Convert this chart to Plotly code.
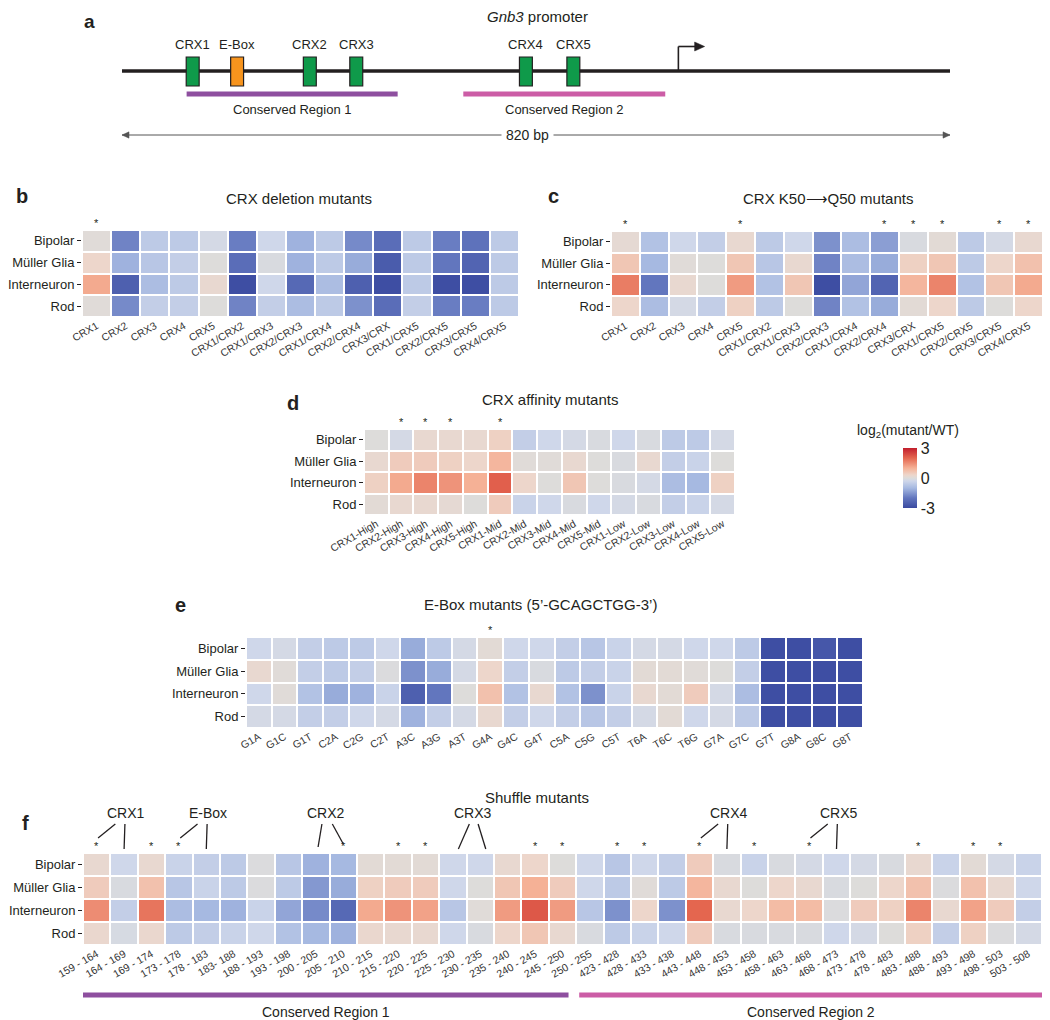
import plotly.graph_objects as go

# figure size (the page adds an 8px body margin; reference pixel coordinates are mapped accordingly)
OFF = 8
W, H = 1050 - OFF, 1020 - OFF
FONT = "Liberation Sans, Arial, Helvetica, sans-serif"
TXT = "#231f20"

cell_types = ["Bipolar", "Müller Glia", "Interneuron", "Rod"]

# ---------------- panel a : promoter diagram (bp) ----------------
promoter_len_bp = 820
site_names = ["CRX1", "E-Box", "CRX2", "CRX3", "CRX4", "CRX5"]
site_bp = [70, 114, 186, 232, 400, 447]
site_kind = ["CRX", "EBOX", "CRX", "CRX", "CRX", "CRX"]
tss_bp = 551
region_names = ["Conserved Region 1", "Conserved Region 2"]
region_start_bp = [64, 338]
region_end_bp = [273, 538]

# ---------------- panel b : CRX deletion mutants ----------------
deletion_mutants = ["CRX1", "CRX2", "CRX3", "CRX4", "CRX5", "CRX1/CRX2", "CRX1/CRX3", "CRX2/CRX3",
                    "CRX1/CRX4", "CRX2/CRX4", "CRX3/CRX", "CRX1/CRX5", "CRX2/CRX5", "CRX3/CRX5", "CRX4/CRX5"]
deletion_bipolar = [0.05, -1.8, -0.6, -0.6, -0.2, -1.9, -0.3, -1.1, -0.6, -1.7, -2.2, -0.6, -1.9, -2.1, -0.6]
deletion_muller = [0.3, -1.1, -0.7, -0.5, 0.0, -2.2, -0.1, -1.1, -0.6, -1.2, -2.6, -0.6, -2.0, -2.4, -0.6]
deletion_interneuron = [1.1, -2.5, -0.9, -0.6, 0.2, -2.9, -0.3, -2.3, -0.9, -2.5, -2.9, -0.6, -2.9, -2.9, -0.6]
deletion_rod = [0.05, -1.7, -0.5, -0.5, 0.0, -1.8, -0.5, -0.9, -0.6, -1.6, -2.2, -0.5, -1.9, -1.9, -0.6]
deletion_sig = ["CRX1"]

# ---------------- panel c : CRX K50->Q50 mutants ----------------
k50q_mutants = list(deletion_mutants)
k50q_bipolar = [0.15, -0.8, -0.3, -0.5, 0.2, -0.6, -0.3, -1.6, -0.9, -1.4, -0.1, 0.1, -0.6, -0.2, 0.2]
k50q_muller = [0.6, -1.0, 0.05, 0.0, 0.6, -0.7, 0.2, -1.8, -0.9, -1.2, 0.4, 0.6, -0.6, 0.3, 0.7]
k50q_interneuron = [1.7, -2.0, 0.2, 0.0, 1.3, -0.8, 0.6, -2.9, -1.3, -2.4, 0.9, 1.6, -0.8, 0.6, 1.1]
k50q_rod = [0.3, -0.9, -0.2, -0.5, 0.4, -0.6, 0.0, -1.8, -0.8, -1.2, 0.1, 0.3, -0.6, 0.0, 0.3]
k50q_sig = ["CRX1", "CRX5", "CRX2/CRX4", "CRX3/CRX", "CRX1/CRX5", "CRX3/CRX5", "CRX4/CRX5"]

# ---------------- panel d : CRX affinity mutants ----------------
affinity_mutants = ["CRX1-High", "CRX2-High", "CRX3-High", "CRX4-High", "CRX5-High",
                    "CRX1-Mid", "CRX2-Mid", "CRX3-Mid", "CRX4-Mid", "CRX5-Mid",
                    "CRX1-Low", "CRX2-Low", "CRX3-Low", "CRX4-Low", "CRX5-Low"]
affinity_bipolar = [0.0, -0.2, 0.2, 0.2, 0.2, 0.4, -0.5, -0.3, -0.2, -0.1, -0.3, -0.1, -0.6, -0.6, -0.2]
affinity_muller = [0.2, 0.5, 0.5, 0.4, 0.3, 0.9, 0.05, 0.05, 0.2, 0.0, -0.1, 0.2, -0.5, -0.4, 0.0]
affinity_interneuron = [0.4, 1.1, 1.6, 1.4, 1.0, 2.1, 0.3, 0.0, 0.6, 0.0, -0.1, -0.2, -0.9, -1.0, 0.4]
affinity_rod = [0.1, 0.2, 0.2, 0.15, 0.0, 0.5, -0.4, -0.3, -0.1, -0.3, -0.2, -0.1, -0.5, -0.4, -0.2]
affinity_sig = ["CRX2-High", "CRX3-High", "CRX4-High", "CRX1-Mid"]

# ---------------- panel e : E-Box mutants ----------------
ebox_mutants = ["G1A", "G1C", "G1T", "C2A", "C2G", "C2T", "A3C", "A3G", "A3T", "G4A", "G4C", "G4T",
                "C5A", "C5G", "C5T", "T6A", "T6C", "T6G", "G7A", "G7C", "G7T", "G8A", "G8C", "G8T"]
ebox_bipolar = [-0.3, -0.2, -0.5, -0.6, -0.6, -0.3, -1.2, -0.6, -0.2, 0.1, -0.3, -0.3,
                -0.5, -0.7, -0.4, -0.2, -0.2, -0.3, -0.3, -0.6, -2.9, -2.9, -2.7, -2.9]
ebox_muller = [0.2, 0.05, -0.5, -0.6, -0.5, -0.05, -1.6, -1.2, -0.2, 0.3, -0.5, -0.1,
               -0.6, -0.5, -0.4, 0.1, 0.1, 0.05, 0.0, -0.5, -2.9, -2.9, -2.9, -2.9]
ebox_interneuron = [-0.3, 0.05, -0.8, -1.2, -1.1, -0.4, -2.5, -2.0, 0.0, 0.7, -0.8, 0.2,
                    -0.8, -1.6, -0.4, 0.2, 0.1, 0.5, -0.2, -0.9, -2.9, -2.9, -2.9, -2.9]
ebox_rod = [-0.2, -0.2, -0.5, -0.5, -0.3, -0.2, -1.1, -0.5, -0.2, 0.2, -0.5, -0.3,
            -0.5, -0.7, -0.5, -0.2, 0.1, -0.3, -0.2, -0.6, -2.9, -2.9, -2.9, -2.9]
ebox_sig = ["G4A"]

# ---------------- panel f : Shuffle mutants ----------------
shuffle_mutants = ["159 - 164", "164 - 169", "169 - 174", "173 - 178", "178 - 183", "183- 188", "188 - 193",
                   "193 - 198", "200 - 205", "205 - 210", "210 - 215", "215 - 220", "220 - 225", "225 - 230",
                   "230 - 235", "235 - 240", "240 - 245", "245 - 250", "250 - 255", "423 - 428", "428 - 433",
                   "433 - 438", "443 - 448", "448 - 453", "453 - 458", "458 - 463", "463 - 468", "468 - 473",
                   "473 - 478", "478 - 483", "483 - 488", "488 - 493", "493 - 498", "498 - 503", "503 - 508"]
shuffle_bipolar = [0.2, -0.3, 0.2, -0.4, -0.5, -0.6, -0.05, -0.7, -1.1, -1.0, 0.1, 0.1, 0.1, -0.3, -0.3, 0.2, 0.3,
                   0.0, -0.3, -0.7, -0.3, -0.5, 0.5, -0.1, -0.4, -0.1, -0.2, -0.3, -0.2, -0.1, 0.2, -0.4, 0.1, -0.2, -0.4]
shuffle_muller = [0.5, -0.1, 0.7, -0.7, -0.4, -0.6, -0.05, -0.6, -1.5, -1.2, 0.4, 0.5, 0.5, -0.3, 0.0, 0.6, 1.0,
                  0.5, -0.3, -0.6, 0.05, -0.6, 0.9, 0.2, 0.0, 0.3, 0.2, -0.1, 0.0, 0.3, 0.7, -0.05, 0.7, 0.2, -0.3]
shuffle_interneuron = [1.5, -0.5, 1.8, -0.9, -1.0, -1.1, -0.4, -1.3, -1.7, -2.3, 1.1, 1.4, 1.2, -0.7, 0.05, 1.3, 2.2,
                       1.3, -0.7, -1.6, 0.3, -1.6, 2.0, 0.2, 0.3, 0.8, 0.8, -0.05, 0.5, 0.4, 1.6, 0.2, 1.2, 0.5, -0.5]
shuffle_rod = [0.25, -0.15, 0.25, -0.6, -0.5, -0.4, -0.3, -0.8, -1.0, -1.1, 0.25, 0.2, 0.2, -0.3, -0.1, 0.3, 0.6,
               0.2, -0.1, -0.6, -0.4, -0.3, 0.5, -0.1, -0.1, -0.1, -0.1, -0.3, -0.2, 0.0, 0.4, -0.5, 0.4, -0.05, -0.2]
shuffle_sig = ["159 - 164", "169 - 174", "173 - 178", "205 - 210", "215 - 220", "220 - 225", "240 - 245",
               "245 - 250", "423 - 428", "428 - 433", "443 - 448", "453 - 458", "463 - 468", "483 - 488",
               "493 - 498", "498 - 503"]
shuffle_sites = ["CRX1", "E-Box", "CRX2", "CRX3", "CRX4", "CRX5"]
shuffle_site_cells = [("159 - 164", "164 - 169"), ("173 - 178", "178 - 183"), ("200 - 205", "205 - 210"),
                      ("225 - 230", "230 - 235"), ("443 - 448", "448 - 453"), ("463 - 468", "468 - 473")]
shuffle_region_cells = [("159 - 164", "245 - 250"), ("250 - 255", "503 - 508")]

# ---------------- styling ----------------
colorscale = [
    [0.0, "#3A4AA0"], [1 / 6, "#6276BE"], [1 / 3, "#A6B9E1"], [0.45, "#CFD7EA"],
    [0.5, "#DDDCDA"], [0.55, "#EDD6CB"], [2 / 3, "#F5B196"], [5 / 6, "#E4664F"], [1.0, "#C21E2D"],
]


def X(p):
    return (p - OFF) / W


def Y(p):
    return 1 - (p - OFF) / H


def text_ann(x, y, text, size, xref="paper", yref="paper", **kw):
    return dict(x=x, y=y, xref=xref, yref=yref, text=text, showarrow=False, xanchor="center",
                yanchor="middle", font=dict(size=size, color=TXT), **kw)


panels = [
    dict(cols=deletion_mutants, z=[deletion_bipolar, deletion_muller, deletion_interneuron, deletion_rod],
         sig=deletion_sig, box=(82, 230, 519, 317), title="CRX deletion mutants", title_xy=(299, 198),
         letter="b", letter_xy=(22, 196)),
    dict(cols=k50q_mutants, z=[k50q_bipolar, k50q_muller, k50q_interneuron, k50q_rod],
         sig=k50q_sig, box=(611, 231, 1043, 317), title="CRX K50⟶Q50 mutants", title_xy=(828, 198),
         letter="c", letter_xy=(553, 196)),
    dict(cols=affinity_mutants, z=[affinity_bipolar, affinity_muller, affinity_interneuron, affinity_rod],
         sig=affinity_sig, box=(364, 429, 735, 515), title="CRX affinity mutants", title_xy=(550, 399),
         letter="d", letter_xy=(293, 403)),
    dict(cols=ebox_mutants, z=[ebox_bipolar, ebox_muller, ebox_interneuron, ebox_rod],
         sig=ebox_sig, box=(246, 637, 863, 728), title="E-Box mutants (5’-GCAGCTGG-3’)", title_xy=(540, 604),
         letter="e", letter_xy=(180, 605)),
    dict(cols=shuffle_mutants, z=[shuffle_bipolar, shuffle_muller, shuffle_interneuron, shuffle_rod],
         sig=shuffle_sig, box=(83, 853, 1042, 945), title="Shuffle mutants", title_xy=(537, 797),
         letter="f", letter_xy=(25, 823)),
]

fig = go.Figure()
axes = {}
annotations = []
shapes = []

for k, p in enumerate(panels):
    n = k + 1
    xa = "xaxis" if n == 1 else f"xaxis{n}"
    ya = "yaxis" if n == 1 else f"yaxis{n}"
    xr = "x" if n == 1 else f"x{n}"
    yr = "y" if n == 1 else f"y{n}"
    x0, y0, x1, y1 = p["box"]
    cols = p["cols"]
    nc = len(cols)
    fig.add_trace(go.Heatmap(z=p["z"], x=list(range(nc)), y=list(range(4)), coloraxis="coloraxis",
                             xgap=2, ygap=2, xaxis=xr, yaxis=yr, hoverinfo="skip"))
    axes[xa] = dict(domain=[X(x0), min(X(x1), 1.0)], anchor=yr, range=[-0.5, nc - 0.5],
                    tickvals=list(range(nc)), ticktext=cols, tickangle=-30,
                    tickfont=dict(size=10.5, color="#333333"), ticks="",
                    showgrid=False, zeroline=False, showline=False, automargin=False)
    axes[ya] = dict(domain=[Y(y1), Y(y0)], anchor=xr, range=[3.5, -0.5], tickvals=[0, 1, 2, 3],
                    ticktext=cell_types, ticks="outside", ticklen=4, tickwidth=1.2, tickcolor=TXT,
                    tickfont=dict(size=13, color=TXT), showgrid=False, zeroline=False, showline=False,
                    automargin=False)
    for name in p["sig"]:
        i = cols.index(name)
        annotations.append(text_ann(i, Y(y0 - 7), "*", 11, xref=xr))
    annotations.append(text_ann(X(p["title_xy"][0]), Y(p["title_xy"][1]), p["title"], 15))
    annotations.append(text_ann(X(p["letter_xy"][0]), Y(p["letter_xy"][1]), f"<b>{p['letter']}</b>", 20))

# ---------------- panel f callouts & conserved regions ----------------
fx = "x5"
for name, (lc, rc) in zip(shuffle_sites, shuffle_site_cells):
    li = shuffle_mutants.index(lc)
    ri = shuffle_mutants.index(rc)
    l_star = lc in shuffle_sig
    r_star = rc in shuffle_sig
    if l_star:
        lab = ri + 0.08
        segs = [(ri - 0.32, li + 0.05, 838), (ri + 0.03, ri, 849)]
    elif r_star:
        lab = li + 0.38
        segs = [(li + 0.22, li + 0.08, 847), (li + 0.6, ri, 844)]
    else:
        lab = li + 0.75
        segs = [(li + 0.6, li + 0.2, 849), (li + 0.92, ri + 0.2, 849)]
    annotations.append(text_ann(lab, Y(813), name, 14, xref=fx))
    for xt, xb, yb in segs:
        shapes.append(dict(type="line", xref=fx, yref="paper", x0=xt, x1=xb, y0=Y(824), y1=Y(yb),
                           line=dict(color=TXT, width=1.3)))

region_colors = ["#8E4F9F", "#CC5DA6"]
f_bar_pads = [(0.0, -0.28), (0.11, 0.0)]
for (a, b), col, rname, (pa, pb) in zip(shuffle_region_cells, region_colors, region_names, f_bar_pads):
    ia = shuffle_mutants.index(a) - 0.5 + pa
    ib = shuffle_mutants.index(b) + 0.5 + pb
    shapes.append(dict(type="line", xref=fx, yref="paper", x0=ia, x1=ib, y0=Y(995), y1=Y(995),
                       line=dict(color=col, width=5)))
    annotations.append(text_ann((ia + ib) / 2, Y(1012), rname, 14, xref=fx))

# ---------------- panel a : promoter diagram ----------------
ax = "x6"
axes["xaxis6"] = dict(domain=[X(122), X(950)], range=[0, promoter_len_bp], anchor="y6", visible=False,
                      automargin=False)
axes["yaxis6"] = dict(domain=[Y(140), Y(40)], range=[0, 1], anchor="x6", visible=False, automargin=False)
fig.add_trace(go.Scatter(x=[0, promoter_len_bp], y=[0.5, 0.5], mode="markers", marker=dict(opacity=0),
                         xaxis="x6", yaxis="y6", hoverinfo="skip", showlegend=False))

shapes.append(dict(type="line", xref=ax, yref="paper", x0=0, x1=promoter_len_bp, y0=Y(71), y1=Y(71),
                   line=dict(color=TXT, width=3.5)))
for s0, s1, col in zip(region_start_bp, region_end_bp, region_colors):
    shapes.append(dict(type="line", xref=ax, yref="paper", x0=s0, x1=s1, y0=Y(94), y1=Y(94),
                       line=dict(color=col, width=5)))
for s0, s1, rname in zip(region_start_bp, region_end_bp, region_names):
    annotations.append(text_ann((s0 + s1) / 2, Y(110), rname, 13, xref=ax))
box_half = 6.4
for name, bp, kind in zip(site_names, site_bp, site_kind):
    fill = "#0F9A4A" if kind == "CRX" else "#F7941D"
    shapes.append(dict(type="rect", xref=ax, yref="paper", x0=bp - box_half, x1=bp + box_half,
                       y0=Y(86), y1=Y(57), fillcolor=fill, line=dict(color=TXT, width=1.2)))
    annotations.append(text_ann(bp, Y(44), name, 13, xref=ax))


def arrow_head(xval, yval, direction, size, color):
    d = 1 if direction > 0 else -1
    path = f"M0,0 L{-d * size},{size * 0.45} L{-d * size},{-size * 0.45} Z"
    return dict(type="path", xref=ax, yref="paper", xsizemode="pixel", ysizemode="pixel",
                xanchor=xval, yanchor=yval, path=path, fillcolor=color, line=dict(color=color, width=0.5))


# TSS arrow
shapes.append(dict(type="line", xref=ax, yref="paper", x0=tss_bp, x1=tss_bp, y0=Y(71), y1=Y(46.5),
                   line=dict(color=TXT, width=1.6)))
shapes.append(dict(type="line", xref=ax, yref="paper", x0=tss_bp, x1=tss_bp + 18, y0=Y(46.5), y1=Y(46.5),
                   line=dict(color=TXT, width=1.6)))
shapes.append(arrow_head(tss_bp + 26, Y(46.5), 1, 10, TXT))
# 820 bp scale
shapes.append(dict(type="line", xref=ax, yref="paper", x0=0, x1=promoter_len_bp, y0=Y(135), y1=Y(135),
                   line=dict(color="#555555", width=1)))
shapes.append(arrow_head(0, Y(135), -1, 7, "#555555"))
shapes.append(arrow_head(promoter_len_bp, Y(135), 1, 7, "#555555"))
annotations.append(text_ann(promoter_len_bp / 2 - 8, Y(135), f"{promoter_len_bp} bp", 14, xref=ax,
                            bgcolor="white", borderpad=4))
annotations.append(text_ann(X(537), Y(17), "<i>Gnb3</i> promoter", 15))
annotations.append(text_ann(X(89), Y(21), "<b>a</b>", 19))

# colorbar title
annotations.append(text_ann(X(908), Y(431), "log<sub>2</sub>(mutant/WT)", 14))

fig.update_layout(
    width=W, height=H, margin=dict(l=0, r=0, t=0, b=0),
    paper_bgcolor="white", plot_bgcolor="white", showlegend=False,
    font=dict(family=FONT, color=TXT),
    coloraxis=dict(cmin=-3, cmax=3, colorscale=colorscale,
                   colorbar=dict(x=X(903), xanchor="left", y=Y(478), yanchor="middle", len=60 / H,
                                 lenmode="fraction", thickness=14, outlinewidth=0, tickvals=[-3, 0, 3],
                                 ticktext=["-3", "0", "3"], ticks="", tickfont=dict(size=16, color=TXT),
                                 ypad=0, xpad=0)),
    annotations=annotations, shapes=shapes, **axes,
)

fig.write_html("out.html")
